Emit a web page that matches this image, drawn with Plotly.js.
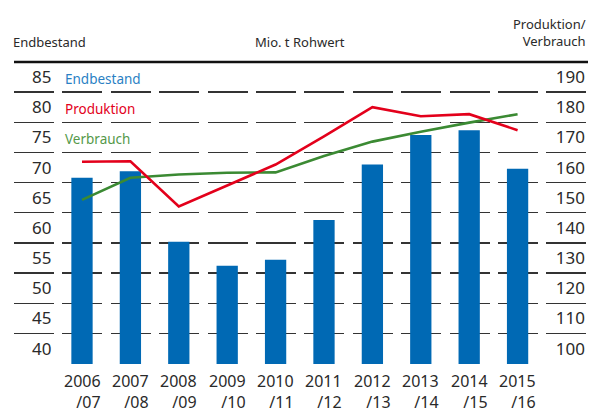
<!DOCTYPE html>
<html>
<head>
<meta charset="utf-8">
<script src="https://cdn.plot.ly/plotly-3.0.1.min.js"></script>
<style>html,body{margin:0;padding:0;background:#fff;}#chart{width:589px;height:412px;}</style>
</head>
<body>
<div id="chart"></div>
<script>
const categories = ["2006/07","2007/08","2008/09","2009/10","2010/11","2011/12","2012/13","2013/14","2014/15","2015/16"];
const endbestand = [70.8, 71.9, 60.2, 56.2, 57.2, 63.8, 73.0, 77.9, 78.7, 72.3];
const produktion = [166.9, 167.1, 152.1, 159.1, 166.0, 175.3, 185.0, 182.0, 182.7, 177.4];
const verbrauch  = [154.3, 161.6, 162.7, 163.3, 163.4, 168.8, 173.6, 176.9, 179.9, 182.7];
const leftTicks  = [40, 45, 50, 55, 60, 65, 70, 75, 80, 85];
const rightTicks = [100, 110, 120, 130, 140, 150, 160, 170, 180, 190];
const seriesNames = ["Endbestand", "Produktion", "Verbrauch"];

const FONT = "Noto Sans, Open Sans, sans-serif";
const BLUE = "#0069b4", RED = "#e3001b", GREEN = "#3b8a33";
const TXT = "#2a2a2a";

const traces = [
  {type: "bar", x: categories, y: endbestand, name: seriesNames[0], width: 0.44,
   marker: {color: BLUE}, yaxis: "y"},
  {type: "scatter", mode: "lines", x: categories, y: verbrauch, name: seriesNames[2],
   line: {color: GREEN, width: 2.6}, yaxis: "y2"},
  {type: "scatter", mode: "lines", x: categories, y: produktion, name: seriesNames[1],
   line: {color: RED, width: 2.6}, yaxis: "y2"}
];

const xLabelAnn = categories.map(c => ({
  xref: "x", yref: "paper", x: c, y: 0, yshift: -6, borderpad: 0, borderwidth: 0,
  xanchor: "center", yanchor: "top", align: "right", showarrow: false,
  text: c.replace("/", "<br>/"), font: {family: FONT, size: 16, color: TXT}
}));

const legendY = [87.5, 82.5, 77.5];
const legendAnn = seriesNames.map((n, i) => ({
  xref: "paper", yref: "y", x: 0.086, y: legendY[i], yshift: -1.5, xanchor: "left", yanchor: "middle",
  showarrow: false, text: n, font: {family: FONT, size: 13.5, color: i === 0 ? "#2a7fc4" : (i === 2 ? "#55994a" : RED)}
}));

const headAnn = [
  {xref: "paper", yref: "paper", x: 0, y: 1, xshift: -3, yshift: 20, xanchor: "left", yanchor: "middle",
   showarrow: false, text: "Endbestand", font: {family: FONT, size: 13, color: TXT}},
  {xref: "paper", yref: "paper", x: 0.5, y: 1, xshift: -1, yshift: 20, xanchor: "center", yanchor: "middle",
   showarrow: false, text: "Mio. t Rohwert", font: {family: FONT, size: 13, color: TXT}},
  {xref: "paper", yref: "paper", x: 1, y: 1, yshift: 30, xanchor: "right", yanchor: "middle", align: "right",
   showarrow: false, text: "Produktion/<br>Verbrauch", font: {family: FONT, size: 13, color: TXT}}
];

const layout = {
  width: 589, height: 412,
  margin: {l: 14, r: 1, t: 62, b: 48},
  paper_bgcolor: "#fff", plot_bgcolor: "rgba(0,0,0,0)",
  showlegend: false,
  font: {family: FONT, color: TXT},
  xaxis: {type: "category", range: [-1.405, 10.455], showticklabels: false, showgrid: false,
          zeroline: false, showline: false, ticks: ""},
  yaxis: {range: [39.93, 90], tickvals: leftTicks, ticktext: leftTicks.map(String),
          showgrid: true, gridcolor: "#333", gridwidth: 1.4, griddash: "40px,8.4px",
          zeroline: false, showline: false, ticks: "",
          ticklabelposition: "inside", ticklabelshift: -15, ticklabelstandoff: 15,
          tickfont: {family: FONT, size: 17, color: TXT}},
  yaxis2: {range: [99.86, 200], overlaying: "y", side: "right", tickvals: rightTicks,
           ticktext: rightTicks.map(String), showgrid: false, zeroline: false, showline: false, ticks: "",
           ticklabelposition: "inside", ticklabelshift: -15, ticklabelstandoff: 0,
           tickfont: {family: FONT, size: 17, color: TXT}},
  shapes: [
    {type: "line", xref: "paper", yref: "paper", x0: 0, x1: 1, y0: 1, y1: 1,
     line: {color: "#111", width: 2.5}}
  ],
  annotations: xLabelAnn.concat(legendAnn, headAnn)
};

Plotly.newPlot("chart", traces, layout, {staticPlot: true, displayModeBar: false});
</script>
</body>
</html>
